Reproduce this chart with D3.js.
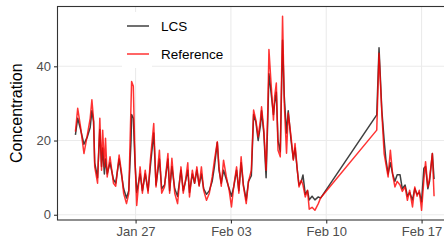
<!DOCTYPE html>
<html><head><meta charset="utf-8">
<script src="https://cdn.jsdelivr.net/npm/d3@7"></script>
<style>body{margin:0;background:#fff}svg{display:block}</style>
</head><body>
<svg id="chart" width="444" height="243"></svg>
<script>
// hours since 2020-01-22 00:00
const startDate = "2020-01-22";
const hours = [14,18,23,29,35,40,43,46,48,53,57,60,62,65,67,70,75,81,85,91,95,99,104,108,112,113,116,119,122,128,132,137,142,146,152,156,162,166,171,177,180,184,189,194,200,204,208,212,215,220,224,228,232,236,240,245,250,255,259,264,267,271,275,280,285,289,293,298,302,306,310,315,319,324,328,332,336,340,342,346,350,353,355,358,363,365,368,371,375,379,382,386,389,394,398,401,405,408,412,415,419,423,426,431,436,442,446,545,549,554,558,561,565,569,573,577,581,586,590,595,599,603,608,612,616,620,624,628,631,635,638,643,646];
const lcs = [21.5,26,23,19,21,23.5,28,25,14,10,23,13,18,11,15,11,14,9.5,8.5,15,11,7,4.5,6.5,20,27,26,14,6,11,6.5,11,6.5,13,22,8,15,7,8,15,6.5,13,7,5,12,6.5,9,12,6,11,8.5,12,8,11,7,5.5,6.5,9,13,19.5,12,8.5,12,9.5,7,5,7.5,12,6.5,14,8,4,9,10.5,27,25,20,24,28,22,10,26,38,34,27,30,33,20,17,47,32,22,28,20,15,18,12,8,9,10.7,5.5,6.5,4,5,4,4.8,4.5,26.9,45,28,20.1,15,11,14,11,9,10.8,10.8,7,8,5,6,4,7,5.5,6,3.5,12.5,13,7,9,16.5,9.6];
const ref = [22.4,28.7,23.7,16.5,21.5,26,31,25.5,12.9,8.5,26,12,22.8,12.9,20.6,10.2,15.6,8.5,7.7,16.1,11.6,5.7,3,5.7,30,35.9,34.6,14.7,2.5,12.9,5.8,12,5.8,14.7,24.6,7.5,17.4,5.8,7.5,16.5,5.8,15.2,5.8,3,12.9,5.8,9.3,14,4.8,12,8.5,12.9,7.7,12.9,6.5,3.9,5.8,10.2,14.7,19.7,12.9,7.7,14.7,10.2,6.5,2.1,7.7,12.9,5.8,15.6,7.7,3,9,12,28.2,25.5,21,25.5,29.1,22.8,12,28.2,44.5,37.2,25.5,31.8,35.5,17.4,15.6,53.5,30,16.6,27.4,21,14.7,19.2,12,7.5,9.3,8,4.8,6.6,1.5,2,1.2,3,4.5,22.8,43.5,27.3,16.5,13.8,10.2,17.4,10.8,7.5,9,8,6.3,7.5,3.9,6.6,2.1,7.5,5,6.6,1.2,9.3,14.3,7.5,9.7,16.5,5];
const seriesNames = ["LCS", "Reference"];
const yTicks = [0, 20, 40];
const xTickDates = ["2020-01-27", "2020-02-03", "2020-02-10", "2020-02-17"];
const yTitle = "Concentration";

const parse = d3.timeParse("%Y-%m-%d");
const t0 = parse(startDate);
const times = hours.map(h => d3.timeHour.offset(t0, h));
const seriesData = [
  {name: seriesNames[0], vals: lcs, color: "#000000", op: 0.75},
  {name: seriesNames[1], vals: ref, color: "#ff0000", op: 0.8}
];

const svg = d3.select("#chart");
const font = "'Liberation Sans', Arial, sans-serif";
const L = 57.5, R = 452, T = 6.5, B = 220;

const tExt = d3.extent(times), tSpan = tExt[1] - tExt[0];
const x = d3.scaleTime()
  .domain([new Date(+tExt[0] - 0.05 * tSpan), new Date(+tExt[1] + 0.05 * tSpan)])
  .range([L, R]);
const allV = lcs.concat(ref);
const vExt = d3.extent(allV), vSpan = vExt[1] - vExt[0];
const y = d3.scaleLinear()
  .domain([vExt[0] - 0.05 * vSpan, vExt[1] + 0.05 * vSpan])
  .range([B, T]);

const tickDates = xTickDates.map(parse);

svg.append("rect").attr("x", L).attr("y", T).attr("width", R - L).attr("height", B - T).attr("fill", "#fff");
const grid = svg.append("g");
grid.selectAll(".gy").data(yTicks).join("line")
  .attr("x1", L).attr("x2", R).attr("y1", d => y(d)).attr("y2", d => y(d))
  .attr("stroke", "#ebebeb").attr("stroke-width", 1.1);
grid.selectAll(".gx").data(tickDates).join("line")
  .attr("x1", d => x(d)).attr("x2", d => x(d)).attr("y1", T).attr("y2", B)
  .attr("stroke", "#ebebeb").attr("stroke-width", 1.1);

const legX = 122, legY = 12, keyW = 30, keyH = 28;
svg.selectAll(".kbg").data(seriesData).join("rect")
  .attr("x", legX).attr("y", (d, i) => legY + i * keyH)
  .attr("width", keyW).attr("height", keyH).attr("fill", "#fff");

const line = d3.line().x((d, i) => x(times[i])).y(d => y(d));
svg.append("g").selectAll("path").data(seriesData).join("path")
  .attr("d", d => line(d.vals))
  .attr("fill", "none").attr("stroke", d => d.color).attr("stroke-opacity", d => d.op)
  .attr("stroke-width", 1.5).attr("stroke-linejoin", "round");

svg.append("rect").attr("x", L).attr("y", T).attr("width", R - L).attr("height", B - T)
  .attr("fill", "none").attr("stroke", "#333").attr("stroke-width", 1.1);

const xAxis = svg.append("g").attr("transform", `translate(0,${B})`)
  .call(d3.axisBottom(x).tickValues(tickDates).tickFormat(d3.timeFormat("%b %d")).tickSize(3.5).tickPadding(3));
const yAxis = svg.append("g").attr("transform", `translate(${L},0)`)
  .call(d3.axisLeft(y).tickValues(yTicks).tickSize(3.5).tickPadding(3));
[xAxis, yAxis].forEach(a => {
  a.select(".domain").remove();
  a.selectAll(".tick line").attr("stroke", "#333").attr("stroke-width", 1.1);
  a.selectAll(".tick text").attr("fill", "#4d4d4d").style("font-family", font).style("font-size", "13px");
});

svg.append("text").attr("transform", `translate(22,${(T + B) / 2}) rotate(-90)`)
  .attr("text-anchor", "middle").style("font-family", font).style("font-size", "16px").attr("fill", "#000")
  .text(yTitle);

const leg = svg.append("g");
seriesData.forEach((d, i) => {
  const cy = legY + i * keyH + keyH / 2;
  leg.append("line").attr("x1", legX + 5).attr("x2", legX + 27).attr("y1", cy).attr("y2", cy)
    .attr("stroke", d.color).attr("stroke-opacity", d.op).attr("stroke-width", 1.5);
  leg.append("text").attr("x", legX + 39).attr("y", cy).attr("dy", "0.36em")
    .style("font-family", font).style("font-size", "13.5px").attr("fill", "#000").text(d.name);
});
</script>
</body></html>
